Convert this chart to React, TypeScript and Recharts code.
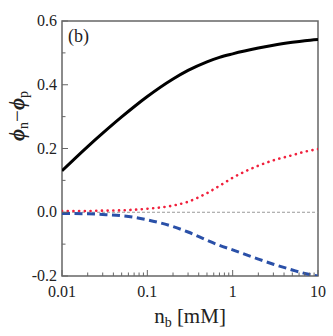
import React from 'react';
import { LineChart, Line, XAxis, YAxis, ReferenceLine, ReferenceArea } from 'recharts';

// concentration n_b [mM]
const nb = [0.01, 0.02, 0.03, 0.05, 0.07, 0.1, 0.2, 0.3, 0.5, 0.7, 1, 2, 3, 5, 7, 10];
// phi_n - phi_p for the three cases
const solid = [0.13, 0.206, 0.248, 0.299, 0.331, 0.363, 0.418, 0.445, 0.472, 0.486, 0.497, 0.515, 0.524, 0.533, 0.538, 0.542];
const dotted = [0.004, 0.004, 0.005, 0.006, 0.008, 0.011, 0.021, 0.033, 0.06, 0.083, 0.108, 0.146, 0.163, 0.179, 0.19, 0.198];
const dashed = [-0.004, -0.005, -0.007, -0.011, -0.016, -0.024, -0.045, -0.062, -0.088, -0.104, -0.118, -0.147, -0.163, -0.181, -0.192, -0.2];

const xTicks = [
  0.01, 0.02, 0.03, 0.04, 0.05, 0.06, 0.07, 0.08, 0.09,
  0.1, 0.2, 0.3, 0.4, 0.5, 0.6, 0.7, 0.8, 0.9,
  1, 2, 3, 4, 5, 6, 7, 8, 9, 10,
];
const xMajor = [0.01, 0.1, 1, 10];
const yTicks = [-0.2, -0.1, 0, 0.1, 0.2, 0.3, 0.4, 0.5, 0.6];

const data = nb.map((x, i) => ({ x, solid: solid[i], dotted: dotted[i], dashed: dashed[i] }));

const FONT = '"Liberation Serif", "Times New Roman", serif';
const AXIS = '#666';

const XTick = (props: any) => {
  const { x, y, payload } = props;
  const v = payload.value;
  const major = xMajor.some((m) => Math.abs(m - v) < 1e-9);
  return (
    <g>
      <line x1={x} x2={x} y1={y} y2={y - (major ? 6 : 3.5)} stroke={AXIS} strokeWidth={1} />
      {major && (
        <text x={x} y={y + 21} textAnchor="middle" style={{ fontFamily: FONT }} fontSize={16} fill="#222">
          {String(v)}
        </text>
      )}
    </g>
  );
};

const YTick = (props: any) => {
  const { x, y, payload } = props;
  const v = payload.value;
  const major = Math.abs(Math.round(v * 10)) % 2 === 0;
  return (
    <g>
      <line x1={x} x2={x + (major ? 6 : 3.5)} y1={y} y2={y} stroke={AXIS} strokeWidth={1} />
      {major && (
        <text x={x - 5} y={y + 5} textAnchor="end" style={{ fontFamily: FONT }} fontSize={16} fill="#222">
          {v.toFixed(1)}
        </text>
      )}
    </g>
  );
};

export default function App() {
  return (
    <div style={{ position: 'absolute', left: 0, top: 0, width: 333, height: 336, background: '#fff' }}>
      <LineChart width={333} height={336} data={data} margin={{ top: 21, right: 15, left: 22, bottom: 30 }}>
        <XAxis
          dataKey="x"
          type="number"
          scale="log"
          domain={[0.01, 10]}
          allowDataOverflow
          ticks={xTicks}
          interval={0}
          tick={<XTick />}
          tickLine={false}
          tickSize={0}
          tickMargin={0}
          axisLine={false}
          height={30}
        />
        <YAxis
          type="number"
          domain={[-0.2, 0.6]}
          allowDataOverflow
          ticks={yTicks}
          interval={0}
          tick={<YTick />}
          tickLine={false}
          tickSize={0}
          tickMargin={0}
          axisLine={false}
          width={40}
        />
        <ReferenceLine y={0} stroke="#999" strokeDasharray="3 2" strokeWidth={1} />
        <Line dataKey="solid" type="monotone" stroke="#000" strokeWidth={3} dot={false} isAnimationActive={false} />
        <Line
          dataKey="dotted"
          type="monotone"
          stroke="#f0203c"
          strokeWidth={2.6}
          strokeDasharray="0.1 5.6"
          strokeLinecap="round"
          dot={false}
          isAnimationActive={false}
        />
        <Line
          dataKey="dashed"
          type="monotone"
          stroke="#2a50a8"
          strokeWidth={3}
          strokeDasharray="8 4.5"
          dot={false}
          isAnimationActive={false}
        />
        <ReferenceArea x1={0.01} x2={10} y1={-0.2} y2={0.6} fill="none" stroke={AXIS} strokeWidth={1.5} />
        <text x={68} y={42} style={{ fontFamily: FONT }} fontSize={18} fill="#222">(b)</text>
        <text x={190} y={323} textAnchor="middle" style={{ fontFamily: FONT }} fontSize={21} fill="#222">
          n<tspan fontSize={14} dy={4}>b</tspan>
          <tspan dy={-4}> [mM]</tspan>
        </text>
        <text
          x={24}
          y={116}
          transform="rotate(-90, 24, 116)"
          textAnchor="middle"
          style={{ fontFamily: FONT }}
          fontSize={21}
          fill="#222"
        >
          <tspan fontStyle="italic" fontWeight="bold">ϕ</tspan>
          <tspan fontSize={14} dy={4}>n</tspan>
          <tspan dy={-4}>−</tspan>
          <tspan fontStyle="italic" fontWeight="bold">ϕ</tspan>
          <tspan fontSize={14} dy={4}>p</tspan>
        </text>
      </LineChart>
    </div>
  );
}
